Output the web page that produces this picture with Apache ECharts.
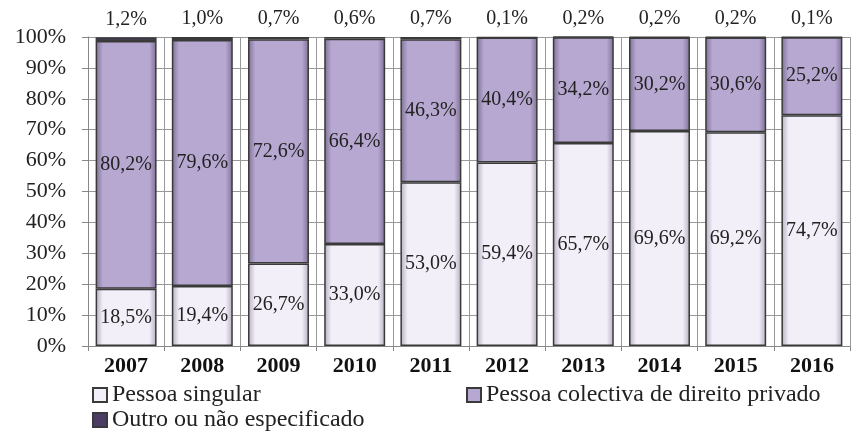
<!DOCTYPE html>
<html><head><meta charset="utf-8">
<script src="https://cdn.jsdelivr.net/npm/echarts@6/dist/echarts.min.js"></script>
<style>html,body{margin:0;padding:0;background:#fff}#c{width:853px;height:432px}</style>
</head><body><div id="c"></div>
<script>
const years = ['2007','2008','2009','2010','2011','2012','2013','2014','2015','2016'];
const singular = [18.5,19.4,26.7,33.0,53.0,59.4,65.7,69.6,69.2,74.7];
const colectiva = [80.2,79.6,72.6,66.4,46.3,40.4,34.2,30.2,30.6,25.2];
const outro = [1.2,1.0,0.7,0.6,0.7,0.1,0.2,0.2,0.2,0.1];
const names = ['Pessoa singular','Pessoa colectiva de direito privado','Outro ou não especificado'];

const FONT = '"Liberation Serif", "DejaVu Serif", serif';
function grad(edge, mid){
  return new echarts.graphic.LinearGradient(0,0,1,0,[
    {offset:0,color:edge},{offset:0.12,color:mid},{offset:0.88,color:mid},{offset:1,color:edge}
  ]);
}
const fmt = p => p.value.toFixed(1).replace('.',',') + '%';
const lblStyle = {fontFamily:FONT,fontSize:20,color:'#222'};
const legText = {fontFamily:FONT,fontSize:24,color:'#222'};

const chart = echarts.init(document.getElementById('c'));
chart.setOption({
  animation:false,
  grid:{left:88,right:3,top:37,bottom:86,containLabel:false},
  legend:[
    {data:[names[0]],left:87,top:378,icon:'rect',itemWidth:14,itemHeight:14,textStyle:legText},
    {data:[names[1]],left:461,top:378,icon:'rect',itemWidth:14,itemHeight:14,textStyle:legText},
    {data:[names[2]],left:87,top:403,icon:'rect',itemWidth:14,itemHeight:14,textStyle:legText}
  ],
  xAxis:{type:'category',data:years,
    axisLine:{lineStyle:{color:'#888',width:1}},
    axisTick:{show:true,length:5,lineStyle:{color:'#888'}},
    splitLine:{show:true,lineStyle:{color:'#999',width:1}},
    axisLabel:{fontFamily:FONT,fontSize:22,fontWeight:'bold',color:'#111',margin:9}},
  yAxis:{type:'value',min:0,max:100,interval:10,
    axisLine:{show:true,lineStyle:{color:'#888'}},
    axisTick:{show:true,length:6,lineStyle:{color:'#888'}},
    splitLine:{lineStyle:{color:'#999',width:1}},
    axisLabel:{formatter:'{value}%',fontFamily:FONT,fontSize:22,color:'#222',margin:22}},
  series:[
    {name:names[0],type:'bar',stack:'a',data:singular,barCategoryGap:'20%',
      itemStyle:{color:grad('#b5adc0','#f3eff8'),borderColor:'#3a3a3a',borderWidth:1.5},
      label:{show:true,position:'inside',formatter:fmt,...lblStyle}},
    {name:names[1],type:'bar',stack:'a',data:colectiva,
      itemStyle:{color:grad('#7d6f93','#b7a8d1'),borderColor:'#3a3a3a',borderWidth:1.5},
      label:{show:true,position:'inside',formatter:fmt,...lblStyle}},
    {name:names[2],type:'bar',stack:'a',data:outro,
      itemStyle:{color:'#4b3d63',borderColor:'#3a3a3a',borderWidth:1.5},
      label:{show:true,position:'top',distance:8,formatter:fmt,...lblStyle}}
  ]
});
</script></body></html>
